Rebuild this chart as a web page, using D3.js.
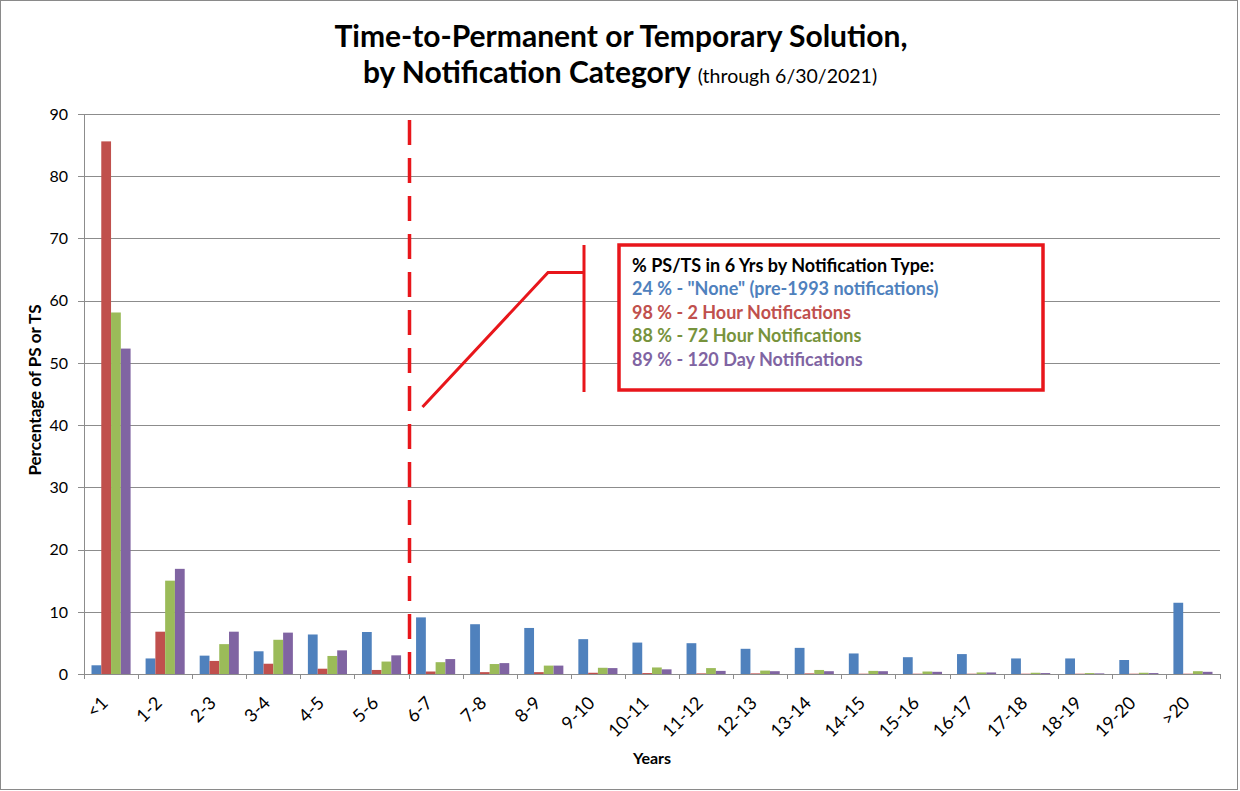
<!DOCTYPE html>
<html>
<head>
<meta charset="utf-8">
<script src="https://cdn.jsdelivr.net/npm/d3@7"></script>
<style>
  html, body { margin: 0; padding: 0; background: #fff; }
  svg { display: block; font-family: Lato, "Open Sans", sans-serif; }
</style>
</head>
<body>
<svg id="chart" width="1240" height="791"></svg>
<script>
// ---- data ----
const categories = ["<1","1-2","2-3","3-4","4-5","5-6","6-7","7-8","8-9","9-10","10-11","11-12","12-13","13-14","14-15","15-16","16-17","17-18","18-19","19-20",">20"];
const seriesNames = ["None", "2 Hour", "72 Hour", "120 Day"];
const noneValues     = [1.4, 2.5, 2.95, 3.65, 6.35, 6.75, 9.1, 8.0, 7.4, 5.6, 5.05, 4.95, 4.05, 4.2, 3.3, 2.7, 3.2, 2.5, 2.5, 2.25, 11.45];
const twoHourValues  = [85.6, 6.8, 2.1, 1.65, 0.85, 0.65, 0.4, 0.3, 0.3, 0.2, 0.15, 0.1, 0.1, 0.1, 0.05, 0.05, 0.05, 0.05, 0.05, 0.05, 0.05];
const h72Values      = [58.1, 15.0, 4.8, 5.5, 2.9, 2.0, 1.9, 1.6, 1.35, 1.0, 1.05, 0.95, 0.55, 0.65, 0.5, 0.4, 0.25, 0.2, 0.15, 0.2, 0.45];
const d120Values     = [52.3, 16.9, 6.8, 6.65, 3.8, 3.0, 2.4, 1.75, 1.35, 0.95, 0.75, 0.5, 0.45, 0.45, 0.45, 0.35, 0.25, 0.15, 0.1, 0.15, 0.35];
const yTicks = [0, 10, 20, 30, 40, 50, 60, 70, 80, 90];
const seriesColors = ["#4F81BD", "#C0504D", "#9BBB59", "#8064A2"];
const noteTitle = "% PS/TS in 6 Yrs by Notification Type:";
const noteLines = ['24 % - "None" (pre-1993 notifications)', "98 % - 2 Hour Notifications", "88 % - 72 Hour Notifications", "89 % - 120 Day Notifications"];
const noteColors = ["#4F81BD", "#C0504D", "#77933C", "#8064A2"];
const cutoffCategory = "6-7";

const allSeries = [noneValues, twoHourValues, h72Values, d120Values];

// ---- layout ----
const svg = d3.select("#chart");
const pLeft = 84, pRight = 1220, pTop = 114, pBottom = 674;
const red = "#E8161B";

svg.append("rect").attr("x", 0.5).attr("y", 0.5).attr("width", 1237).attr("height", 789)
  .attr("fill", "#fff").attr("stroke", "#8a8a8a").attr("stroke-width", 1);

const x0 = d3.scaleBand().domain(categories).range([pLeft, pRight]).paddingInner(0).paddingOuter(0);
const x1 = d3.scaleBand().domain(seriesNames).range([7.5, x0.bandwidth() - 7.5]).padding(0);
const y = d3.scaleLinear().domain([0, 90]).range([pBottom, pTop]);

// gridlines
svg.append("g").selectAll("line").data(yTicks).join("line")
  .attr("x1", pLeft - 6).attr("x2", pRight)
  .attr("y1", d => Math.round(y(d)) + 0.5).attr("y2", d => Math.round(y(d)) + 0.5)
  .attr("stroke", "#8c8c8c").attr("stroke-width", 1);

// y tick labels
svg.append("g").selectAll("text").data(yTicks).join("text")
  .attr("x", pLeft - 16).attr("y", d => y(d)).attr("dy", "0.36em")
  .attr("text-anchor", "end").attr("font-size", 16).attr("fill", "#000")
  .text(d => d);

// y axis line
svg.append("line").attr("x1", pLeft + 0.5).attr("x2", pLeft + 0.5).attr("y1", pTop).attr("y2", pBottom)
  .attr("stroke", "#8c8c8c");

// bars
const groups = svg.append("g").selectAll("g").data(categories).join("g")
  .attr("transform", d => `translate(${x0(d)},0)`);
groups.selectAll("rect").data((c, i) => allSeries.map((s, k) => ({ name: seriesNames[k], value: s[i], k })))
  .join("rect")
  .attr("x", d => x1(d.name)).attr("width", x1.bandwidth())
  .attr("y", d => y(d.value)).attr("height", d => y(0) - y(d.value))
  .attr("fill", d => seriesColors[d.k]);

// x axis line + ticks
svg.append("line").attr("x1", pLeft).attr("x2", pRight).attr("y1", pBottom + 0.5).attr("y2", pBottom + 0.5)
  .attr("stroke", "#8c8c8c");
const boundaries = categories.map(c => x0(c)).concat([pRight]);
svg.append("g").selectAll("line").data(boundaries).join("line")
  .attr("x1", d => Math.round(d) + 0.5).attr("x2", d => Math.round(d) + 0.5)
  .attr("y1", pBottom).attr("y2", pBottom + 5).attr("stroke", "#8c8c8c");

// x tick labels
svg.append("g").selectAll("text").data(categories).join("text")
  .attr("text-anchor", "end").attr("font-size", 18).attr("fill", "#000")
  .attr("transform", d => `translate(${x0(d) + x0.bandwidth() / 2 - 2},704) rotate(-45)`)
  .text(d => d);

// axis titles
svg.append("text").attr("x", 652).attr("y", 764).attr("text-anchor", "middle")
  .attr("font-size", 16).attr("font-weight", "bold").text("Years");
svg.append("text").attr("transform", `translate(41,${(pTop + pBottom) / 2 - 4}) rotate(-90)`)
  .attr("text-anchor", "middle").attr("font-size", 17).attr("font-weight", "bold")
  .text("Percentage of PS or TS");

// title
svg.append("text").attr("x", 621).attr("y", 47).attr("text-anchor", "middle")
  .attr("font-size", 30).attr("font-weight", "bold")
  .text("Time-to-Permanent or Temporary Solution,");
const t2 = svg.append("text").attr("x", 620).attr("y", 83).attr("text-anchor", "middle");
t2.append("tspan").attr("font-size", 30).attr("font-weight", "bold").text("by Notification Category");
t2.append("tspan").attr("font-size", 19.5).attr("dx", 7).text("(through 6/30/2021)");

// dashed cutoff line
const cutX = Math.round(x0(cutoffCategory)) + 0.5;
svg.append("line").attr("x1", cutX).attr("x2", cutX).attr("y1", 120).attr("y2", pBottom)
  .attr("stroke", red).attr("stroke-width", 3.5).attr("stroke-dasharray", "25,13");

// callout
svg.append("path")
  .attr("d", "M422.5,407 L548,272.5 L584,272.5 M584,245 L584,392")
  .attr("fill", "none").attr("stroke", red).attr("stroke-width", 3);

svg.append("rect").attr("x", 619).attr("y", 245).attr("width", 424).attr("height", 145)
  .attr("fill", "#fff").attr("stroke", red).attr("stroke-width", 3.5);

svg.append("text").attr("x", 632).attr("y", 272).attr("font-size", 18).attr("font-weight", "bold")
  .attr("fill", "#000").text(noteTitle);
svg.append("g").selectAll("text").data(noteLines).join("text")
  .attr("x", 632).attr("y", (d, i) => 295 + i * 23.5)
  .attr("font-size", 18).attr("font-weight", "bold")
  .attr("fill", (d, i) => noteColors[i]).text(d => d);
</script>
</body>
</html>
